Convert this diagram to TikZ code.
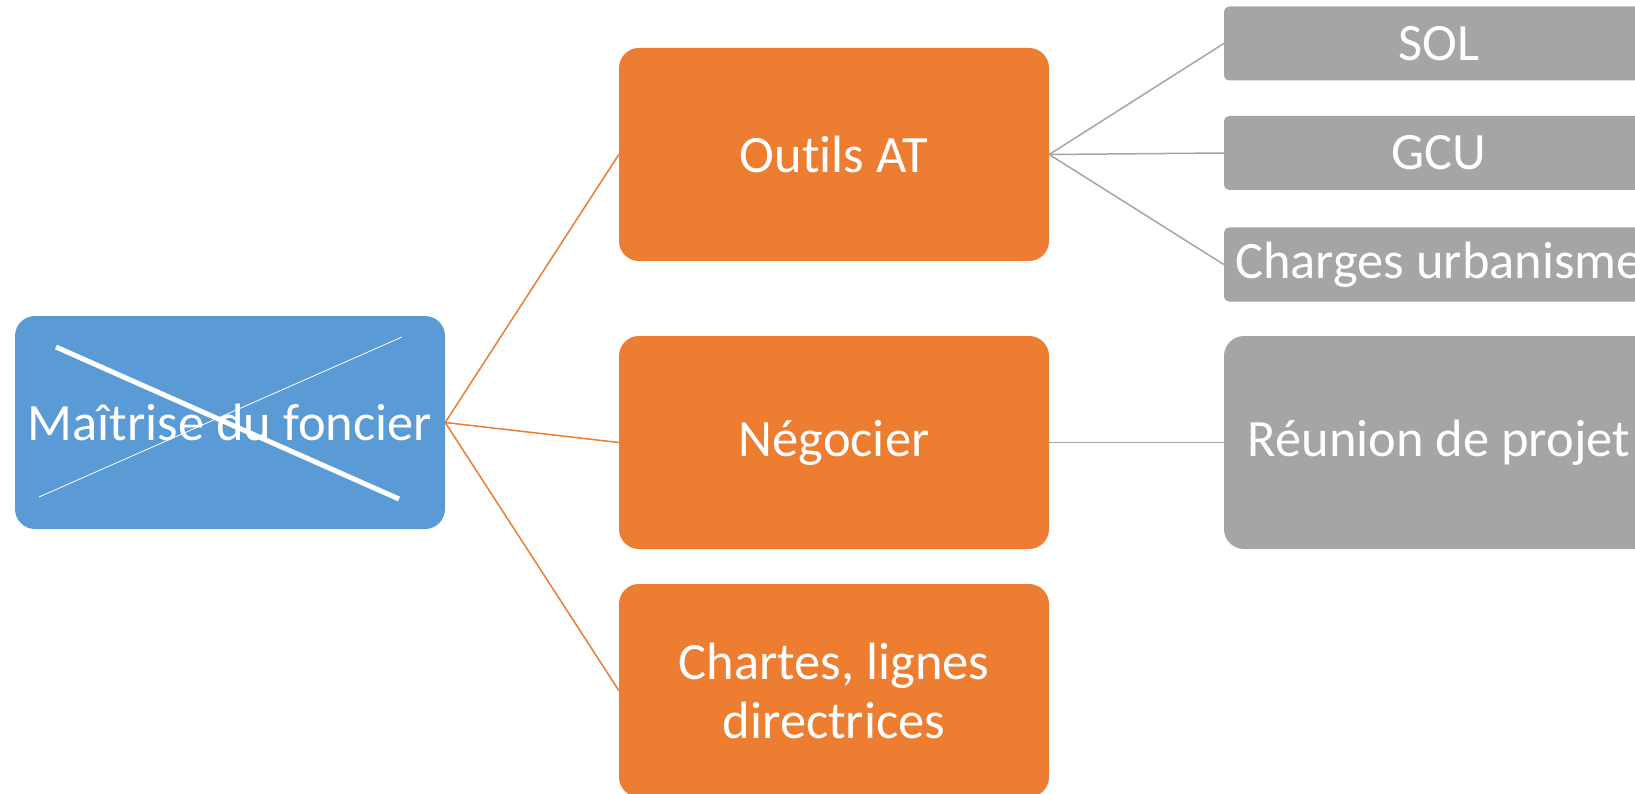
\documentclass[tikz,border=0pt]{standalone}
\usepackage{fontspec}
\setmainfont{Carlito}[Ligatures=NoCommon]
\definecolor{cblue}{HTML}{5B9BD5}
\definecolor{corange}{HTML}{ED7D31}
\definecolor{cgray}{HTML}{A5A5A5}
\begin{document}
\begin{tikzpicture}[x=1pt,y=-1pt,
  basebox/.style={rectangle,inner sep=0pt,text=white,align=center,
    font=\fontsize{52.5}{59}\selectfont},
  bluebox/.style={basebox,fill=cblue,rounded corners=20pt,minimum width=430pt,minimum height=213pt},
  orangebox/.style={basebox,fill=corange,rounded corners=20pt,minimum width=430pt,minimum height=213pt},
  graysmall/.style={basebox,fill=cgray,rounded corners=5pt,minimum width=430pt,minimum height=74pt},
  graybig/.style={basebox,fill=cgray,rounded corners=20pt,minimum width=430pt,minimum height=213pt},
  olink/.style={draw=corange,line width=1.5pt},
  glink/.style={draw=cgray,line width=1.5pt}]
\useasboundingbox (0,0) rectangle (1635,794);
\clip (0,0) rectangle (1635,794);
\fill[white] (0,0) rectangle (1635,794);
% root
\node[bluebox] (m) at (230,422.5) {Maîtrise du foncier};
\draw[white,line width=5pt] (56,347) -- (399,499);
\draw[white,line width=0.8pt] (39,497) -- (402,337);
% level 1
\node[orangebox] (o1) at (834,154.5) {Outils AT};
\node[orangebox] (o2) at (834,442.5) {Négocier};
\node[orangebox] (o3) at (834,690.5) {Chartes, lignes\\directrices};
% level 2
\node[graysmall] (g1) at (1439,43.5) {SOL};
\node[graysmall] (g2) at (1439,153) {GCU};
\node[graysmall] (g3) at (1439,264.5) {Charges urbanisme};
\node[graybig] (g4) at (1439,442.5) {Réunion de projet};
% connectors
\draw[olink] (m.east) -- (o1.west);
\draw[olink] (m.east) -- (o2.west);
\draw[olink] (m.east) -- (o3.west);
\draw[glink] (o1.east) -- (g1.west);
\draw[glink] (o1.east) -- (g2.west);
\draw[glink] (o1.east) -- (g3.west);
\draw[glink] (o2.east) -- (g4.west);
\end{tikzpicture}
\end{document}
